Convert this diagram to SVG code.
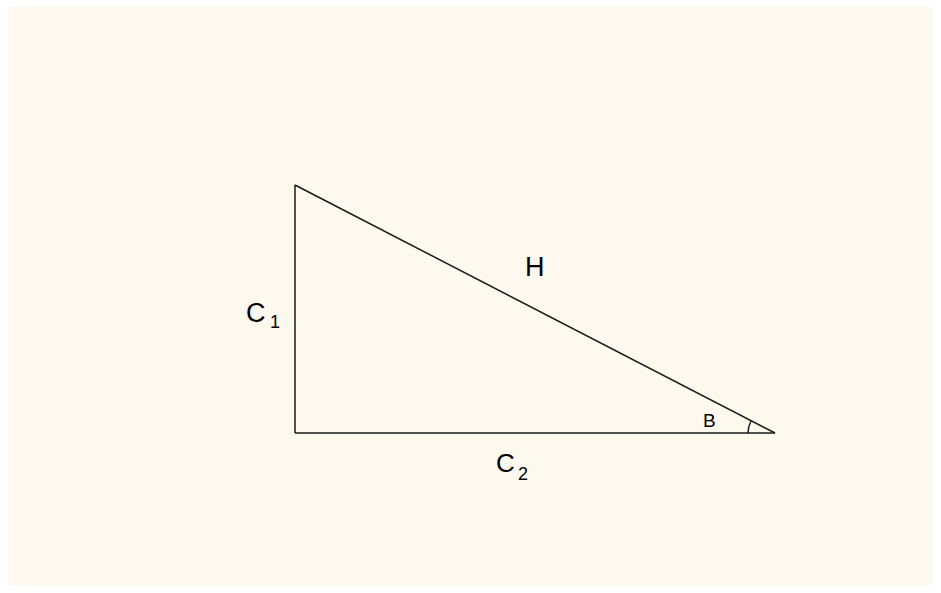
<svg xmlns="http://www.w3.org/2000/svg" width="941" height="593" viewBox="0 0 941 593">
<style>
.ln{stroke:#1a1a1a;stroke-width:1.5;fill:none}
.lb{font-family:"Liberation Sans",Arial,sans-serif;fill:#000}
.sub{font-size:18px}
</style>
<rect x="0" y="0" width="941" height="593" fill="#ffffff"/>
<rect x="8" y="7" width="925" height="578" fill="#fdf9ef"/>
<g id="connectors">
<line class="ln" x1="295" y1="185" x2="295" y2="433"/>
<line class="ln" x1="295" y1="433" x2="775" y2="433"/>
<line class="ln" x1="295" y1="185" x2="775" y2="433"/>
<path class="ln" d="M748 433 A27 27 0 0 1 751 421" stroke-width="1.2"/>
</g>
<g id="label-H"><text class="lb" x="525" y="276" font-size="27">H</text></g>
<g id="label-C1"><text class="lb" x="246" y="322" font-size="27">C<tspan class="sub" x="270" y="328">1</tspan></text></g>
<g id="label-C2"><text class="lb" x="496" y="472" font-size="26">C<tspan class="sub" x="518" y="480">2</tspan></text></g>
<g id="label-B"><text class="lb" x="703" y="427" font-size="19">B</text></g>
</svg>
